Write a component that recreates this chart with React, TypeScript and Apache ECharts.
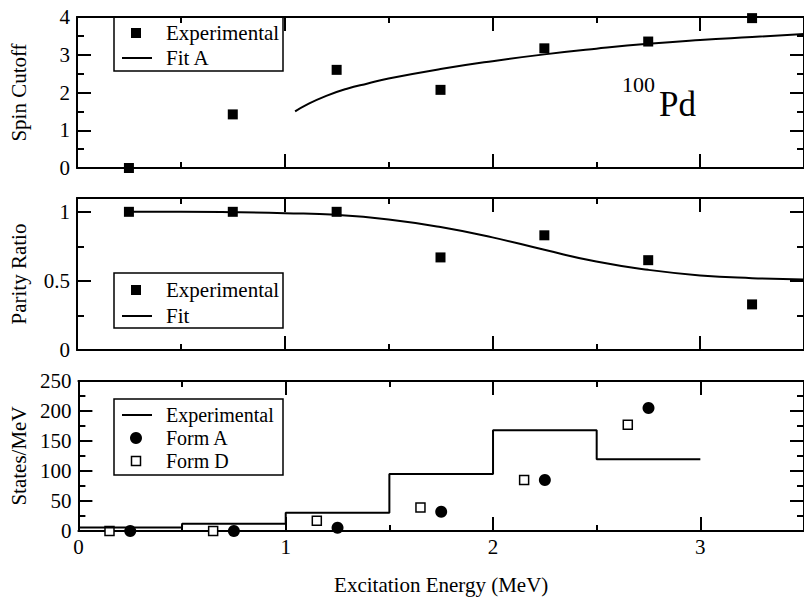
import React, { useEffect, useRef } from "react";
import * as echarts from "echarts";

const FONT = "Liberation Serif";

// Top panel: spin cutoff
const spinX = [0.25, 0.75, 1.25, 1.75, 2.25, 2.75, 3.25];
const spinExp = [0.0, 1.42, 2.6, 2.07, 3.17, 3.35, 3.97];
const fitAX = [1.05, 1.1, 1.2, 1.3, 1.4, 1.5, 1.75, 2.0, 2.25, 2.5, 2.75, 3.0, 3.25, 3.5];
const fitAY = [1.5, 1.66, 1.91, 2.1, 2.24, 2.37, 2.62, 2.83, 3.01, 3.16, 3.29, 3.39, 3.47, 3.55];

// Middle panel: parity ratio
const parityX = [0.25, 0.75, 1.25, 1.75, 2.25, 2.75, 3.25];
const parityExp = [1.0, 1.0, 1.0, 0.67, 0.83, 0.65, 0.33];
const fitX = [0.25, 0.5, 0.75, 1.0, 1.25, 1.5, 1.75, 2.0, 2.25, 2.5, 2.75, 3.0, 3.25, 3.5];
const fitY = [1.0, 1.0, 0.997, 0.99, 0.978, 0.945, 0.89, 0.815, 0.725, 0.64, 0.58, 0.54, 0.52, 0.51];

// Bottom panel: level density
const stepX = [0, 0.5, 1.0, 1.5, 2.0, 2.5, 3.0];
const stepY = [6, 12, 30.5, 95, 168, 119.5, 119.5];
const formAX = [0.25, 0.75, 1.25, 1.75, 2.25, 2.75];
const formAY = [0, 0, 5.5, 32, 85, 205];
const formDX = [0.15, 0.65, 1.15, 1.65, 2.15, 2.65];
const formDY = [0, 0, 17, 39, 85, 177];

const yTitles = ["Spin Cutoff", "Parity Ratio", "States/MeV"];
const xTitle = "Excitation Energy (MeV)";

const zip = (xs: number[], ys: number[]) => xs.map((x, i) => [x, ys[i]]);

const grids = [
  { left: 77, top: 17, width: 732, height: 151 },
  { left: 77, top: 198, width: 732, height: 152 },
  { left: 77, top: 381, width: 732, height: 150 },
];
const yRanges = [
  { min: 0, max: 4, major: 1, minor: 0.5 },
  { min: 0, max: 1.1, major: 0.5, minor: 0.25 },
  { min: 0, max: 250, major: 50, minor: 25 },
];

const black = "#000";
const lineStyle = { color: black, width: 2 };

function xAxesFor(g: number) {
  const base = {
    type: "value",
    gridIndex: g,
    min: 0,
    max: 3.5,
    splitLine: { show: false },
  };
  const mk = (pos: string, interval: number, len: number, line: boolean, labels: boolean) => ({
    ...base,
    position: pos,
    interval,
    axisLine: { show: line, onZero: false, lineStyle },
    axisTick: { show: true, inside: true, length: len, lineStyle },
    axisLabel: {
      show: labels,
      showMaxLabel: false,
      margin: 5,
      fontFamily: FONT,
      fontSize: 21,
      color: black,
    },
  });
  const majorB: any = mk("bottom", 1, 14, true, g === 2);
  if (g === 2) {
    majorB.name = xTitle;
    majorB.nameLocation = "middle";
    majorB.nameGap = 43;
    majorB.nameTextStyle = { fontFamily: FONT, fontSize: 21, color: black };
  }
  return [
    majorB,
    mk("bottom", 0.5, 6, false, false),
    mk("top", 1, 14, true, false),
    mk("top", 0.5, 6, false, false),
  ];
}

function yAxesFor(g: number) {
  const r = yRanges[g];
  const base = {
    type: "value",
    gridIndex: g,
    min: r.min,
    max: r.max,
    splitLine: { show: false },
  };
  const mk = (pos: string, interval: number, len: number, line: boolean, labels: boolean) => ({
    ...base,
    position: pos,
    interval,
    axisLine: { show: line, onZero: false, lineStyle },
    axisTick: { show: true, inside: true, length: len, lineStyle },
    axisLabel: {
      show: labels,
      showMaxLabel: g !== 1,
      margin: 7,
      fontFamily: FONT,
      fontSize: 21,
      color: black,
    },
  });
  const majorL: any = mk("left", r.major, 14, true, true);
  majorL.name = yTitles[g];
  majorL.nameLocation = "middle";
  majorL.nameGap = 48;
  majorL.nameTextStyle = { fontFamily: FONT, fontSize: 21, color: black };
  return [
    majorL,
    mk("left", r.minor, 7, false, false),
    mk("right", r.major, 14, true, false),
    mk("right", r.minor, 7, false, false),
  ];
}

function legendBox(
  x: number,
  y: number,
  w: number,
  h: number,
  fontSize: number,
  items: { kind: string; label: string; cy: number }[]
) {
  const children: any[] = [
    {
      type: "rect",
      shape: { x, y, width: w, height: h },
      style: { fill: "#fff", stroke: black, lineWidth: 1.5 },
    },
  ];
  items.forEach((it) => {
    if (it.kind === "line") {
      children.push({
        type: "line",
        shape: { x1: x + 8, y1: it.cy, x2: x + 38, y2: it.cy },
        style: { stroke: black, lineWidth: 2 },
      });
    } else if (it.kind === "square") {
      children.push({
        type: "rect",
        shape: { x: x + 17, y: it.cy - 5, width: 10, height: 10 },
        style: { fill: black },
      });
    } else if (it.kind === "open") {
      children.push({
        type: "rect",
        shape: { x: x + 17.5, y: it.cy - 4.5, width: 9, height: 9 },
        style: { fill: "#fff", stroke: black, lineWidth: 1.5 },
      });
    } else if (it.kind === "circle") {
      children.push({
        type: "circle",
        shape: { cx: x + 22, cy: it.cy, r: 6 },
        style: { fill: black },
      });
    }
    children.push({
      type: "text",
      style: {
        text: it.label,
        x: x + 52,
        y: it.cy,
        font: `${fontSize}px "${FONT}"`,
        lineHeight: fontSize,
        fill: black,
        textAlign: "left",
        textVerticalAlign: "middle",
        verticalAlign: "middle",
      },
    });
  });
  return { type: "group", z: 100, children };
}

export default function App() {
  const ref = useRef<HTMLDivElement>(null);
  useEffect(() => {
    if (!ref.current) return;
    const chart = echarts.init(ref.current, null, { renderer: "svg" });
    const xAxis = [0, 1, 2].flatMap((g) => xAxesFor(g));
    const yAxis = [0, 1, 2].flatMap((g) => yAxesFor(g));
    const solid = { color: black, opacity: 1 };
    const option: any = {
      animation: false,
      backgroundColor: "#fff",
      grid: grids,
      xAxis,
      yAxis,
      series: [
        {
          name: "Fit A",
          type: "line",
          xAxisIndex: 0,
          yAxisIndex: 0,
          data: zip(fitAX, fitAY),
          smooth: true,
          symbol: "none",
          clip: false,
          lineStyle: { color: black, width: 2 },
        },
        {
          name: "Experimental",
          type: "scatter",
          xAxisIndex: 0,
          yAxisIndex: 0,
          data: zip(spinX, spinExp),
          symbol: "rect",
          symbolSize: 10,
          clip: false,
          itemStyle: solid,
        },
        {
          name: "Fit",
          type: "line",
          xAxisIndex: 4,
          yAxisIndex: 4,
          data: zip(fitX, fitY),
          smooth: true,
          symbol: "none",
          clip: false,
          lineStyle: { color: black, width: 2 },
        },
        {
          name: "Experimental ratio",
          type: "scatter",
          xAxisIndex: 4,
          yAxisIndex: 4,
          data: zip(parityX, parityExp),
          symbol: "rect",
          symbolSize: 10,
          clip: false,
          itemStyle: solid,
        },
        {
          name: "Experimental density",
          type: "line",
          step: "end",
          xAxisIndex: 8,
          yAxisIndex: 8,
          data: zip(stepX, stepY),
          symbol: "none",
          clip: false,
          lineStyle: { color: black, width: 2 },
        },
        {
          name: "Form A",
          type: "scatter",
          xAxisIndex: 8,
          yAxisIndex: 8,
          data: zip(formAX, formAY),
          symbol: "circle",
          symbolSize: 12,
          clip: false,
          itemStyle: solid,
        },
        {
          name: "Form D",
          type: "scatter",
          xAxisIndex: 8,
          yAxisIndex: 8,
          data: zip(formDX, formDY),
          symbol: "rect",
          symbolSize: 9,
          clip: false,
          itemStyle: { color: "#fff", borderColor: black, borderWidth: 1.5, opacity: 1 },
        },
      ],
      graphic: [
        legendBox(114, 17, 169, 54, 21, [
          { kind: "square", label: "Experimental", cy: 33 },
          { kind: "line", label: "Fit A", cy: 58 },
        ]),
        legendBox(114, 273, 169, 55, 21, [
          { kind: "square", label: "Experimental", cy: 290 },
          { kind: "line", label: "Fit", cy: 316 },
        ]),
        legendBox(114, 399, 169, 76, 20, [
          { kind: "line", label: "Experimental", cy: 415 },
          { kind: "circle", label: "Form A", cy: 438 },
          { kind: "open", label: "Form D", cy: 461 },
        ]),
        {
          type: "text",
          z: 100,
          style: {
            text: "100",
            x: 622,
            y: 84,
            font: `22px "${FONT}"`,
            fill: black,
            textAlign: "left",
            textVerticalAlign: "middle",
            verticalAlign: "middle",
          },
        },
        {
          type: "text",
          z: 100,
          style: {
            text: "Pd",
            x: 659,
            y: 104,
            font: `35px "${FONT}"`,
            fill: black,
            textAlign: "left",
            textVerticalAlign: "middle",
            verticalAlign: "middle",
          },
        },
      ],
    };
    chart.setOption(option);
    return () => chart.dispose();
  }, []);
  return (
    <div
      ref={ref}
      style={{ position: "absolute", left: 0, top: 0, width: 804, height: 599 }}
    />
  );
}
